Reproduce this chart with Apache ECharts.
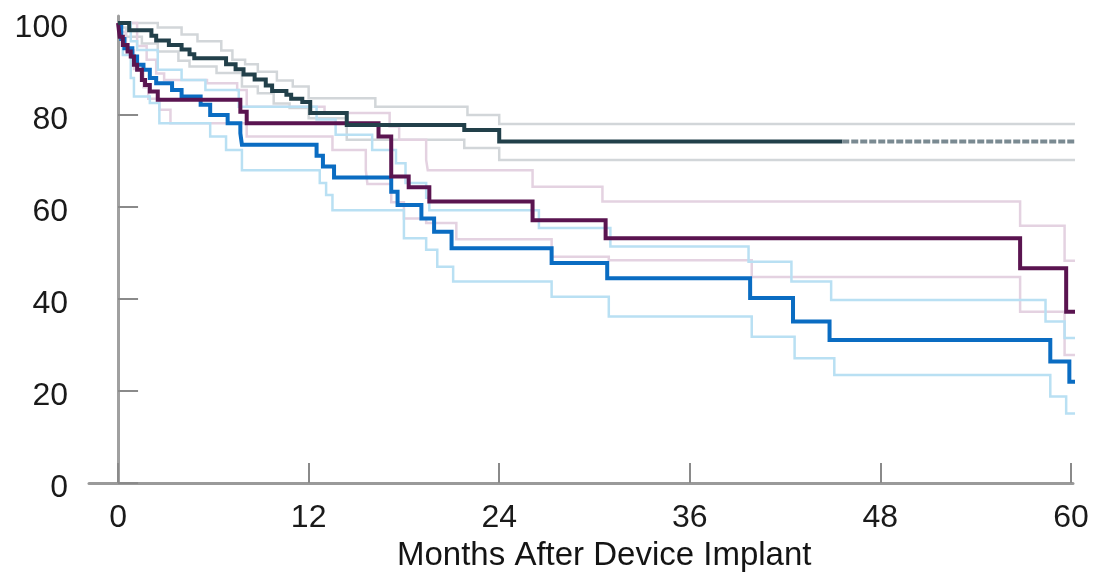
<!DOCTYPE html>
<html>
<head>
<meta charset="utf-8">
<script src="https://cdn.jsdelivr.net/npm/echarts@6/dist/echarts.min.js"></script>
<style>
  html, body { margin: 0; padding: 0; background: #ffffff; }
  #chart { width: 1093px; height: 572px; }
</style>
</head>
<body>
<div id="chart"></div>
<script>
// Kaplan-Meier survival estimates (%) by months after device implant,
// each with upper and lower confidence limits.
const xTicks = [0, 12, 24, 36, 48, 60];
const yTicks = [0, 20, 40, 60, 80, 100];
const xTitle = 'Months After Device Implant';

// Slate group
const slateT = [0, 0.7, 2.1, 2.4, 3.2, 4.0, 4.5, 4.8, 6.8, 7.4, 7.9, 8.6, 9.3, 9.7, 10.6, 10.9, 11.6, 12.1, 14.4, 21.8, 24.0, 45.6];
const slateS = [100, 98.4, 97.2, 96.2, 95.2, 94.2, 93.2, 92.3, 91.0, 89.9, 88.8, 87.7, 86.4, 85.2, 84.4, 83.5, 82.8, 80.4, 77.8, 76.7, 74.2, 74.2];
// censored tail of the slate group
const slateTailT = [45.6, 60.4];
const slateTailS = [74.2, 74.2];
const slateHiT = [0, 2.5, 4.0, 5.0, 6.5, 7.2, 8.0, 8.8, 10.0, 11.0, 12.0, 16.2, 22.0, 24.0, 60.4];
const slateHiS = [100, 99.0, 97.5, 96.0, 94.0, 92.0, 91.0, 89.4, 87.5, 86.2, 83.6, 81.8, 80.0, 78.0, 78.0];
const slateLoT = [0, 0.5, 1.5, 2.5, 3.8, 4.5, 6.2, 7.8, 8.8, 9.8, 10.8, 12.0, 14.4, 21.8, 24.0, 60.4];
const slateLoS = [99.0, 97.0, 95.5, 93.8, 91.8, 90.5, 89.1, 86.2, 84.7, 82.5, 81.5, 79.3, 74.6, 72.8, 70.2, 70.2];

// Purple group
const plumT = [0, 0.1, 0.3, 0.6, 0.8, 1.0, 1.2, 1.5, 1.7, 2.0, 2.5, 7.7, 8.1, 16.4, 17.2, 18.3, 19.6, 26.1, 30.7, 56.8, 59.7, 60.4];
const plumS = [100, 97.0, 95.2, 93.8, 92.7, 90.9, 89.8, 87.6, 86.5, 85.1, 83.3, 80.7, 78.2, 75.3, 66.6, 64.3, 61.2, 57.1, 53.2, 46.7, 37.2, 37.2];
const plumHiT = [0, 1.2, 1.8, 2.4, 2.9, 5.6, 7.5, 8.1, 13.0, 17.1, 17.7, 19.4, 19.5, 26.1, 30.5, 56.8, 59.6, 60.4];
const plumHiS = [100, 95.0, 92.0, 89.0, 87.6, 86.9, 85.4, 81.8, 80.4, 77.5, 74.6, 70.2, 68.0, 64.4, 61.2, 55.9, 48.3, 48.3];
const plumLoT = [0, 0.5, 1.0, 1.6, 1.9, 2.6, 3.3, 8.1, 13.5, 15.6, 15.7, 17.2, 18.0, 19.4, 21.3, 27.3, 30.9, 39.9, 56.8, 59.6, 60.4];
const plumLoS = [98.0, 94.0, 90.0, 86.0, 83.5, 81.1, 78.2, 75.3, 72.4, 68.0, 65.0, 61.0, 57.5, 56.5, 53.0, 49.2, 48.4, 44.8, 37.2, 27.8, 27.8];

// Blue group
const blueT = [0, 0.2, 0.4, 0.9, 1.2, 1.6, 2.0, 2.4, 3.4, 4.0, 5.2, 5.8, 6.9, 7.7, 7.8, 12.5, 12.9, 13.6, 17.2, 17.6, 19.1, 19.9, 21.0, 27.3, 30.8, 39.8, 42.5, 44.8, 58.7, 59.9, 60.4];
const blueS = [100, 96.5, 94.5, 92.7, 90.9, 89.8, 88.0, 86.9, 85.4, 84.0, 82.2, 80.0, 78.2, 76.0, 73.5, 71.1, 68.8, 66.4, 63.3, 60.4, 57.5, 54.6, 51.0, 47.8, 44.5, 40.2, 35.1, 31.1, 26.4, 22.0, 22.0];
const blueHiT = [0, 0.8, 1.2, 2.5, 4.0, 5.5, 7.6, 12.5, 13.7, 16.0, 17.5, 18.1, 19.4, 19.6, 26.5, 31.0, 39.7, 42.4, 44.9, 58.4, 59.6, 60.4];
const blueHiS = [100, 96.0, 94.1, 89.8, 87.6, 85.4, 81.8, 79.0, 75.7, 72.4, 69.5, 65.2, 62.0, 59.3, 55.4, 51.4, 48.1, 43.8, 39.8, 35.1, 31.5, 31.5];
const blueLoT = [0, 0.3, 0.8, 1.0, 2.0, 2.6, 5.8, 6.8, 7.8, 12.7, 13.1, 13.5, 18.0, 19.4, 20.1, 21.1, 27.3, 30.9, 39.9, 42.6, 45.1, 58.7, 59.7, 60.3];
const blueLoS = [97.0, 93.0, 88.0, 84.0, 82.6, 78.2, 75.3, 72.4, 68.0, 65.2, 62.6, 59.3, 53.2, 50.7, 47.0, 43.8, 40.5, 36.2, 31.8, 27.1, 23.5, 18.8, 15.1, 15.1];

const pairs = (t, s) => t.map((v, i) => [v, s[i]]);

function curve(name, t, s, color, width, z, dash) {
  return {
    name: name,
    type: 'line',
    step: 'end',
    data: pairs(t, s),
    showSymbol: false,
    clip: false,
    silent: true,
    z: z,
    lineStyle: { color: color, width: width, type: dash || 'solid', cap: 'butt', join: 'miter' }
  };
}

const font = '"Liberation Sans", Arial, sans-serif';

const chart = echarts.init(document.getElementById('chart'), null, { renderer: 'canvas' });
chart.setOption({
  animation: false,
  backgroundColor: '#ffffff',
  grid: { left: 89, right: 20, top: 16, bottom: 89, containLabel: false },
  xAxis: {
    type: 'value',
    min: -1.83,
    max: 60.13,
    axisLine: { show: true, lineStyle: { color: '#9a9a9a', width: 3 } },
    axisTick: { show: true, inside: true, length: 20, customValues: xTicks, lineStyle: { color: '#8a8a8a', width: 2 } },
    axisLabel: { customValues: xTicks, margin: 19, fontSize: 32, color: '#1a1a1a', fontFamily: font },
    splitLine: { show: false }
  },
  yAxis: {
    type: 'value',
    min: 0,
    max: 101.5,
    axisLine: { show: true, lineStyle: { color: '#a0a0a0', width: 3 } },
    axisTick: { show: true, inside: true, length: 20, customValues: yTicks, lineStyle: { color: '#8a8a8a', width: 2 } },
    axisLabel: {
      customValues: yTicks, margin: 21, color: '#1a1a1a',
      formatter: v => '{v|' + v + '}',
      rich: { v: { fontSize: 32, fontFamily: font, color: '#1a1a1a', padding: [10, 0, 0, 0] } }
    },
    splitLine: { show: false }
  },
  graphic: [{
    type: 'text',
    left: 397,
    top: 539,
    style: { text: xTitle, fontSize: 33, fontFamily: font, fill: '#141414', fontWeight: 500 }
  }],
  series: [
    curve('Slate upper', slateHiT, slateHiS, '#d2d6d9', 2.5, 1),
    curve('Slate lower', slateLoT, slateLoS, '#d2d6d9', 2.5, 1),
    curve('Purple upper', plumHiT, plumHiS, '#e4d2e1', 2.5, 1),
    curve('Purple lower', plumLoT, plumLoS, '#e4d2e1', 2.5, 1),
    curve('Blue upper', blueHiT, blueHiS, '#b9e0f3', 2.5, 1),
    curve('Blue lower', blueLoT, blueLoS, '#b9e0f3', 2.5, 1),
    curve('Blue', blueT, blueS, '#0a6cc2', 4, 3),
    curve('Purple', plumT, plumS, '#5a1450', 4, 4),
    curve('Slate', slateT, slateS, '#22404a', 4, 5),
    curve('Slate censored', slateTailT, slateTailS, '#7a8a92', 4, 5, [7, 2])
  ]
});
</script>
</body>
</html>
